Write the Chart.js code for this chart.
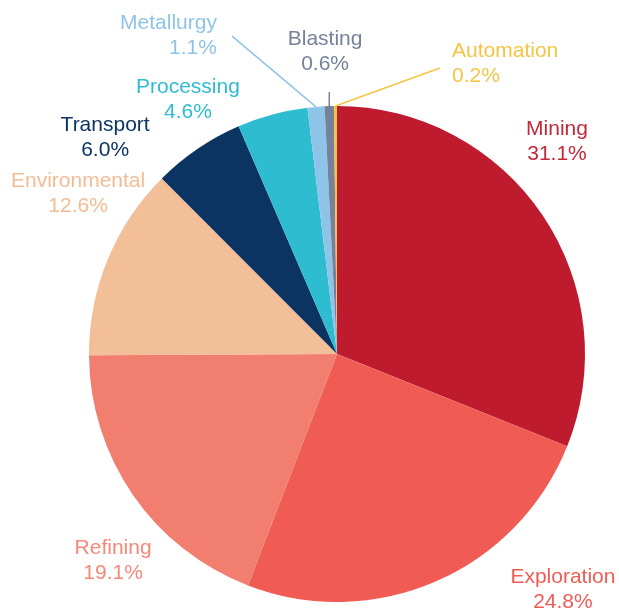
<!DOCTYPE html>
<html lang="en">
<head>
  <meta charset="UTF-8">
  <title>Mining pie</title>
  <style>
    html, body { margin: 0; padding: 0; background: #fff; }
    #wrap { width: 619px; height: 613px; }
  </style>
</head>
<body>
  <div id="wrap"><canvas id="pieChart" width="619" height="613"></canvas></div>

  <script src="https://cdn.jsdelivr.net/npm/chart.js"></script>
  <script>
    // Data, clockwise from 12 o'clock
    var categories = ['Mining', 'Exploration', 'Refining', 'Environmental', 'Transport', 'Processing', 'Metallurgy', 'Blasting', 'Automation'];
    var shares = [31.1, 24.8, 19.1, 12.6, 6.0, 4.6, 1.1, 0.6, 0.2];
    var sliceColors = ['#BE1B2F', '#F05C54', '#F27E6F', '#F2BF98', '#0B3462', '#2EBDD0', '#8EC4E8', '#76829A', '#F4C443'];
    var textColors = ['#C52638', '#F05C54', '#F4897A', '#F2BC94', '#0B3462', '#2EBDD0', '#8EC4E8', '#76829A', '#F4C443'];

    // Label placement, in units of the pie radius from its centre
    var labelPos = [
      { dx: 0.887, dy: -0.855, align: 'center' },
      { dx: 0.911, dy: 0.950, align: 'center' },
      { dx: -0.903, dy: 0.833, align: 'center' },
      { dx: -1.044, dy: -0.645, align: 'center' },
      { dx: -0.935, dy: -0.871, align: 'center' },
      { dx: -0.601, dy: -1.024, align: 'center' },
      { dx: -0.484, dy: -1.282, align: 'right' },
      { dx: -0.048, dy: -1.218, align: 'center' },
      { dx: 0.464, dy: -1.169, align: 'left' }
    ];
    // leader lines for the thin slices: end point in radius units
    var leaders = { 6: { dx: -0.423, dy: -1.282 }, 7: { dx: -0.031, dy: -1.056 }, 8: { dx: 0.415, dy: -1.153 } };

    var outsideLabels = {
      id: 'outsideLabels',
      afterDatasetsDraw: function(chart) {
        var ctx = chart.ctx;
        var meta = chart.getDatasetMeta(0);
        var cx = meta.data[0].x, cy = meta.data[0].y, r = meta.data[0].outerRadius;
        ctx.save();
        // leader lines
        Object.keys(leaders).forEach(function(k) {
          var arc = meta.data[k];
          var mid = (arc.startAngle + arc.endAngle) / 2;
          ctx.strokeStyle = sliceColors[k];
          ctx.lineWidth = 1.5;
          ctx.beginPath();
          ctx.moveTo(cx + Math.cos(mid) * r, cy + Math.sin(mid) * r);
          ctx.lineTo(cx + leaders[k].dx * r, cy + leaders[k].dy * r);
          ctx.stroke();
        });
        ctx.font = '21px "Liberation Sans", Arial, sans-serif';
        ctx.textBaseline = 'middle';
        categories.forEach(function(name, i) {
          var p = labelPos[i];
          var x = cx + p.dx * r, y = cy + p.dy * r;
          ctx.fillStyle = textColors[i];
          ctx.textAlign = p.align;
          ctx.fillText(name, x, y - 12.5);
          ctx.fillText(shares[i].toFixed(1) + '%', x, y + 12.5);
        });
        ctx.restore();
      }
    };

    new Chart(document.getElementById('pieChart').getContext('2d'), {
      type: 'pie',
      data: {
        labels: categories,
        datasets: [{
          data: shares,
          backgroundColor: sliceColors,
          borderWidth: 0
        }]
      },
      options: {
        responsive: false,
        animation: false,
        layout: { padding: { left: 89, right: 34, top: 106, bottom: 11 } },
        plugins: { legend: { display: false }, tooltip: { enabled: false } }
      },
      plugins: [outsideLabels]
    });
  </script>
</body>
</html>
